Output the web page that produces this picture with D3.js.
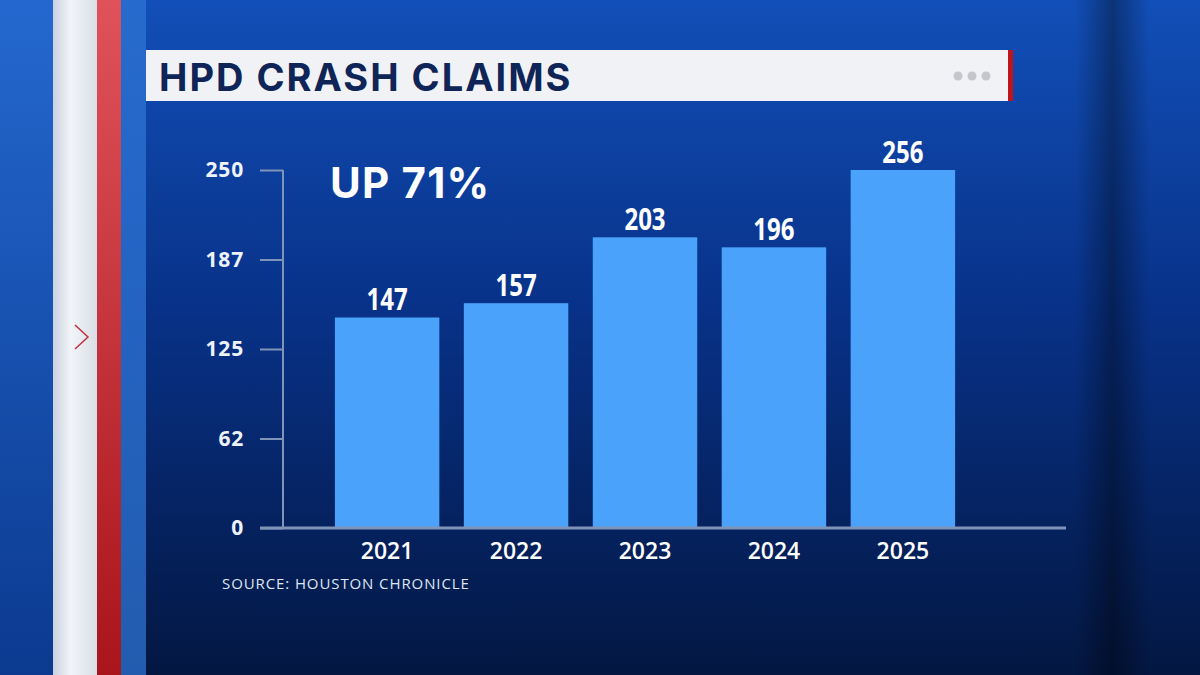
<!DOCTYPE html>
<html>
<head>
<meta charset="utf-8">
<script src="https://cdn.jsdelivr.net/npm/d3@7"></script>
<style>
  html, body { margin: 0; padding: 0; background: #0a3a8c; }
  svg { display: block; }
</style>
</head>
<body>
<svg id="chart" width="1200" height="675"></svg>
<script>
// data
const years = ["2021", "2022", "2023", "2024", "2025"];
const claims = [147, 157, 203, 196, 256];
const tickValues = [0, 62.5, 125, 187.5, 250];
const tickLabels = ["0", "62", "125", "187", "250"];

const width = 1200, height = 675;
const svg = d3.select("#chart");
const defs = svg.append("defs");

// backdrop gradients
const bg = defs.append("linearGradient").attr("id", "bg")
  .attr("x1", 0).attr("y1", 0).attr("x2", 0).attr("y2", 1);
bg.append("stop").attr("offset", "0%").attr("stop-color", "#124fb8");
bg.append("stop").attr("offset", "45%").attr("stop-color", "#083289");
bg.append("stop").attr("offset", "100%").attr("stop-color", "#031742");

const side = defs.append("linearGradient").attr("id", "side")
  .attr("x1", 0).attr("y1", 0).attr("x2", 1).attr("y2", 0);
side.append("stop").attr("offset", "0%").attr("stop-color", "#000").attr("stop-opacity", 0);
side.append("stop").attr("offset", "50%").attr("stop-color", "#000").attr("stop-opacity", 0.35);
side.append("stop").attr("offset", "100%").attr("stop-color", "#000").attr("stop-opacity", 0);

const leftBlue = defs.append("linearGradient").attr("id", "leftBlue")
  .attr("x1", 0).attr("y1", 0).attr("x2", 0).attr("y2", 1);
leftBlue.append("stop").attr("offset", "0%").attr("stop-color", "#2468cf");
leftBlue.append("stop").attr("offset", "100%").attr("stop-color", "#0b3a90");

const white = defs.append("linearGradient").attr("id", "whiteStrip")
  .attr("x1", 0).attr("y1", 0).attr("x2", 1).attr("y2", 0);
white.append("stop").attr("offset", "0%").attr("stop-color", "#c9d2e0");
white.append("stop").attr("offset", "40%").attr("stop-color", "#f2f4f8");
white.append("stop").attr("offset", "100%").attr("stop-color", "#d9dee6");

const red = defs.append("linearGradient").attr("id", "redStrip")
  .attr("x1", 0).attr("y1", 0).attr("x2", 0).attr("y2", 1);
red.append("stop").attr("offset", "0%").attr("stop-color", "#e0525a");
red.append("stop").attr("offset", "100%").attr("stop-color", "#a8151a");

svg.append("rect").attr("width", width).attr("height", height).attr("fill", "url(#bg)");
svg.append("rect").attr("x", 1075).attr("width", 75).attr("height", height).attr("fill", "url(#side)");

// left decorative strips
svg.append("rect").attr("x", 0).attr("width", 53).attr("height", height).attr("fill", "url(#leftBlue)");
svg.append("rect").attr("x", 53).attr("width", 44).attr("height", height).attr("fill", "url(#whiteStrip)");
svg.append("rect").attr("x", 97).attr("width", 24).attr("height", height).attr("fill", "url(#redStrip)");
svg.append("rect").attr("x", 121).attr("width", 25).attr("height", height).attr("fill", "#2d74d4").attr("opacity", 0.75);
svg.append("path").attr("d", "M75,325 L88,337 L75,349")
  .attr("fill", "none").attr("stroke", "#c2303e").attr("stroke-width", 1.5);

// title bar
svg.append("rect").attr("x", 146).attr("y", 50).attr("width", 863).attr("height", 51).attr("fill", "#f1f2f5");
svg.append("rect").attr("x", 1008).attr("y", 50).attr("width", 5).attr("height", 51).attr("fill", "#c0141c");
svg.append("text").attr("x", 159).attr("y", 91)
  .attr("font-family", "Inter, 'Open Sans', sans-serif").attr("font-weight", 700)
  .attr("font-size", 38).attr("letter-spacing", 2).attr("fill", "#0f2557").text("HPD CRASH CLAIMS");
svg.selectAll("circle.dot").data([958, 972, 986]).join("circle")
  .attr("class", "dot").attr("cx", d => d).attr("cy", 76).attr("r", 4.5).attr("fill", "#c4c6cc");

// scales
const x = d3.scaleBand().domain(years).range([322, 968]).paddingInner(0.19).paddingOuter(0.1);
const y = d3.scaleLinear().domain([0, 250]).range([528, 170]).clamp(true);

// y axis
const yAxis = svg.append("g").attr("transform", "translate(283,0)")
  .call(d3.axisLeft(y).tickValues(tickValues).tickSize(23).tickPadding(16)
    .tickFormat((d, i) => tickLabels[i]));
yAxis.select(".domain").attr("stroke", "#7f94b8").attr("stroke-width", 2).attr("d", "M0,170V528");
yAxis.selectAll(".tick line").attr("stroke", "#7f94b8").attr("stroke-width", 2);
yAxis.selectAll(".tick text").attr("fill", "#eef3fb")
  .attr("font-family", "'Open Sans', sans-serif").attr("font-weight", 700).attr("font-size", 21)
  .attr("letter-spacing", 0.8);

// bars
svg.selectAll("rect.bar").data(claims).join("rect")
  .attr("class", "bar")
  .attr("x", (d, i) => x(years[i]))
  .attr("y", d => y(d))
  .attr("width", x.bandwidth())
  .attr("height", d => y(0) - y(d))
  .attr("fill", "#4aa2fb");

// baseline
svg.append("line").attr("x1", 260).attr("x2", 1066).attr("y1", 528).attr("y2", 528)
  .attr("stroke", "#7f94b8").attr("stroke-width", 3);

// value labels (squeezed sideways to look condensed)
svg.selectAll("text.val").data(claims).join("text")
  .attr("class", "val")
  .attr("transform", (d, i) => `translate(${x(years[i]) + x.bandwidth() / 2},${y(d) - 7}) scale(0.8,1)`)
  .attr("text-anchor", "middle")
  .attr("font-family", "'Open Sans', sans-serif")
  .attr("font-weight", 700).attr("font-size", 30).attr("fill", "#ffffff")
  .text(d => d);

// year labels
svg.selectAll("text.yr").data(years).join("text")
  .attr("class", "yr")
  .attr("x", d => x(d) + x.bandwidth() / 2)
  .attr("y", 559)
  .attr("text-anchor", "middle")
  .attr("font-family", "'Open Sans', sans-serif").attr("font-weight", 600)
  .attr("font-size", 23).attr("fill", "#ffffff")
  .text(d => d);

// headline and source
svg.append("text").attr("x", 330).attr("y", 198)
  .attr("font-family", "Inter, 'Open Sans', sans-serif").attr("font-weight", 700)
  .attr("font-size", 42).attr("letter-spacing", 1.2).attr("fill", "#ffffff").text("UP 71%");
svg.append("text").attr("x", 222).attr("y", 589)
  .attr("font-family", "'Open Sans', sans-serif").attr("font-weight", 400)
  .attr("font-size", 15).attr("letter-spacing", 0.9).attr("fill", "#dfe6f2").text("SOURCE: HOUSTON CHRONICLE");
</script>
</body>
</html>
